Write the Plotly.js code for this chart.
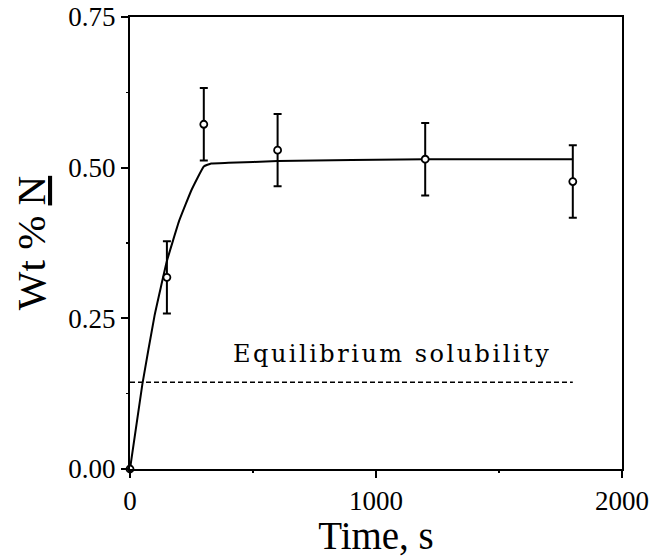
<!DOCTYPE html>
<html>
<head>
<meta charset="utf-8">
<script src="https://cdn.plot.ly/plotly-3.0.1.min.js"></script>
<style>html,body{margin:0;padding:0;background:#fff;}#chart{width:651px;height:557px;}</style>
</head>
<body>
<div id="chart"></div>
<script>
// Measured data (time in s, wt % N)
const timeData = [0, 150, 300, 600, 1200, 1800];
const wtData = [0.0, 0.318, 0.572, 0.529, 0.514, 0.477];
const errData = [0, 0.06, 0.06, 0.06, 0.06, 0.06];

// Model curve
const curveTime = [0, 50, 100, 150, 200, 250, 300, 330, 400, 600, 1200, 1800];
const curveWt = [0, 0.14, 0.255, 0.345, 0.412, 0.463, 0.502, 0.507, 0.508, 0.511, 0.514, 0.514];

// Equilibrium solubility line
const eqTime = [0, 1800];
const eqWt = [0.144, 0.144];
const eqLabel = 'Equilibrium solubility';

const xTicks = [0, 1000, 2000];
const xMinorTicks = [500, 1500];
const yTicks = [0, 0.25, 0.5, 0.75];
const yMinorTicks = [0.125, 0.375, 0.625];

const traces = [
  {x: eqTime, y: eqWt, mode: 'lines', line: {color: '#000', width: 1.5, dash: '5px,3px'}, hoverinfo: 'skip'},
  {x: curveTime, y: curveWt, mode: 'lines', line: {color: '#000', width: 2, shape: 'spline', smoothing: 0.3}, hoverinfo: 'skip'},
  {x: timeData, y: wtData, mode: 'markers', cliponaxis: false,
   marker: {symbol: 'circle', size: 7, color: '#fff', line: {color: '#000', width: 1.8}},
   error_y: {type: 'data', array: errData, visible: true, color: '#000', thickness: 2, width: 4}},
  // invisible helper trace carrying the minor-tick axes
  {x: [0], y: [0], xaxis: 'x2', yaxis: 'y2', mode: 'markers', marker: {opacity: 0}, hoverinfo: 'skip'}
];

const serif = 'Liberation Serif';

const layout = {
  width: 651, height: 557,
  margin: {l: 130, r: 29, t: 17, b: 88},
  paper_bgcolor: '#fff', plot_bgcolor: '#fff',
  showlegend: false,
  font: {family: serif, size: 27, color: '#000'},
  xaxis: {
    range: [0, 2000], tickmode: 'array', tickvals: xTicks, ticktext: xTicks.map(String),
    ticks: 'outside', ticklen: 7, tickwidth: 2, tickcolor: '#000',
    showline: true, linewidth: 2, linecolor: '#000', mirror: true,
    showgrid: false, zeroline: false,
    tickfont: {family: serif, size: 27, color: '#000'},
    title: {text: 'Time, s', font: {family: serif, size: 39, color: '#000'}, standoff: 4}
  },
  yaxis: {
    range: [0, 0.75], tickmode: 'array', tickvals: yTicks, ticktext: yTicks.map(v => v.toFixed(2)),
    ticks: 'outside', ticklen: 7, tickwidth: 2, tickcolor: '#000',
    showline: true, linewidth: 2, linecolor: '#000', mirror: true,
    showgrid: false, zeroline: false,
    tickfont: {family: serif, size: 27, color: '#000'},
    title: {text: 'Wt % <u>N</u>', font: {family: serif, size: 41, color: '#000'}, standoff: 10}
  },
  xaxis2: {
    overlaying: 'x', anchor: 'y', side: 'bottom', range: [0, 2000],
    tickmode: 'array', tickvals: xMinorTicks, showticklabels: false,
    ticks: 'outside', ticklen: 3, tickwidth: 1.5, tickcolor: '#000',
    showline: false, showgrid: false, zeroline: false
  },
  yaxis2: {
    overlaying: 'y', anchor: 'x', side: 'left', range: [0, 0.75],
    tickmode: 'array', tickvals: yMinorTicks, showticklabels: false,
    ticks: 'outside', ticklen: 3, tickwidth: 1.5, tickcolor: '#000',
    showline: false, showgrid: false, zeroline: false
  },
  annotations: [{
    x: 1065, y: 0.19, xref: 'x', yref: 'y', showarrow: false,
    text: '<span style="letter-spacing:2.5px">' + eqLabel + '</span>',
    font: {family: 'DejaVu Serif', size: 24, color: '#000'}
  }]
};

Plotly.newPlot('chart', traces, layout, {staticPlot: true});
</script>
</body>
</html>
